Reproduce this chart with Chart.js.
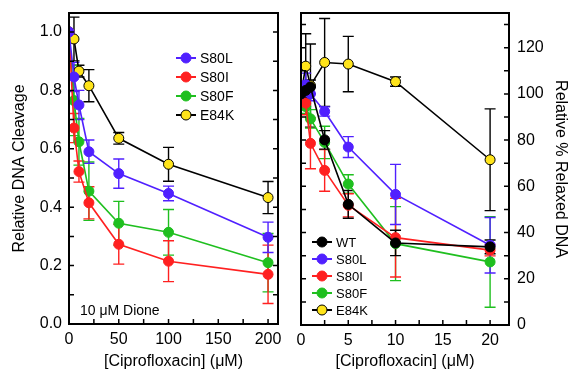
<!DOCTYPE html>
<html>
<head>
<meta charset="utf-8">
<script src="https://cdn.jsdelivr.net/npm/chart.js@4.4.1/dist/chart.umd.min.js"></script>
<style>
  body { margin: 0; background: #fff; }
  .panel { position: absolute; top: 0; height: 373px; width: 285px; }
</style>
</head>
<body>
<div class="panel" style="left:0"><canvas id="cleavage"></canvas></div>
<div class="panel" style="left:285px"><canvas id="relaxed"></canvas></div>
<script>
// left panel: relative DNA cleavage vs ciprofloxacin (10 uM dione)
const cleavageDoses = [0, 5, 10, 20, 50, 100, 200];
const cleavageS80L = [1.0, 0.846, 0.75, 0.59, 0.515, 0.447, 0.297];
const cleavageS80LErr = [0, 0.05, 0.05, 0.04, 0.05, 0.025, 0.052];
const cleavageS80I = [1.0, 0.671, 0.522, 0.415, 0.273, 0.215, 0.17];
const cleavageS80IErr = [0, 0.05, 0.036, 0.055, 0.068, 0.07, 0.1];
const cleavageS80F = [1.0, 0.765, 0.624, 0.455, 0.345, 0.314, 0.21];
const cleavageS80FErr = [0, 0.12, 0.08, 0.1, 0.075, 0.078, 0.1];
const cleavageE84K = [1.0, 0.976, 0.866, 0.816, 0.636, 0.547, 0.433];
const cleavageE84KErr = [0, 0.075, 0.02, 0.055, 0.02, 0.058, 0.055];

// right panel: relative % relaxed DNA vs ciprofloxacin
const relaxDoses = [0, 0.5, 1, 2.5, 5, 10, 20];
const relaxWT = [100, 101.5, 103, 80.1, 52.2, 35.5, 33.8];
const relaxWTErr = [0, 3, 3, 4, 6, 5.5, 3];
const relaxS80L = [100, 104, 100, 92.4, 77, 56.5, 34.5];
const relaxS80LErr = [0, 5, 3, 2, 4.5, 13, 12];
const relaxS80I = [100, 96, 78.6, 66.9, 51.8, 37.8, 32.4];
const relaxS80IErr = [0, 5, 11, 9, 5, 17, 2.5];
const relaxS80F = [100, 94.5, 89.2, 79, 61, 35.2, 27.3];
const relaxS80FErr = [0, 3, 4, 7, 4, 16, 19.6];
const relaxE84K = [100, 112, 103.6, 113.6, 112.9, 105.3, 71.5];
const relaxE84KErr = [0, 14, 18, 19, 12, 2, 22];

const BLUE = '#5020ff', RED = '#ff2020', GREEN = '#1fbf1f', YELLOW = '#ffe41a', BLACK = '#000000';
const FONT = "'Liberation Sans', Arial, Helvetica, sans-serif";

const series = (label, xs, ys, errs, color) => ({
  label,
  data: xs.map((x, i) => ({ x, y: ys[i] })),
  errs,
  borderColor: color === YELLOW ? BLACK : color,
  backgroundColor: color,
  pointBorderColor: color === YELLOW ? BLACK : color,
  pointBorderWidth: 1,
  pointRadius: 5,
  pointHoverRadius: 5,
  borderWidth: 1.6,
  showLine: true
});

// frame, inward ticks, error bars, legend and note
const decor = {
  id: 'decor',
  beforeDatasetsDraw(chart) {
    const ctx = chart.ctx, xs = chart.scales.x, ys = chart.scales.y;
    const dsets = chart.data.datasets;
    for (let i = dsets.length - 1; i >= 0; i--) {
      const ds = dsets[i];
      ctx.save();
      ctx.strokeStyle = ds.borderColor;
      ctx.lineWidth = 1.4;
      ds.data.forEach((p, j) => {
        const e = ds.errs[j];
        if (!e) return;
        const px = xs.getPixelForValue(p.x);
        const top = ys.getPixelForValue(p.y + e), bot = ys.getPixelForValue(p.y - e);
        ctx.beginPath();
        ctx.moveTo(px, top); ctx.lineTo(px, bot);
        ctx.moveTo(px - 5.5, top); ctx.lineTo(px + 5.5, top);
        ctx.moveTo(px - 5.5, bot); ctx.lineTo(px + 5.5, bot);
        ctx.stroke();
      });
      ctx.restore();
    }
  },
  afterDraw(chart, args, o) {
    const ctx = chart.ctx, a = chart.chartArea, xs = chart.scales.x, ys = chart.scales.y;
    ctx.save();
    ctx.strokeStyle = '#000';
    ctx.lineWidth = 2;
    ctx.strokeRect(a.left, a.top, a.right - a.left, a.bottom - a.top);
    ctx.lineWidth = 1.5;
    ctx.beginPath();
    for (let v = o.yMinor; v < ys.max; v += o.yMinor) {
      const py = ys.getPixelForValue(v);
      ctx.moveTo(a.left, py); ctx.lineTo(a.left + 5, py);
      ctx.moveTo(a.right, py); ctx.lineTo(a.right - 5, py);
    }
    for (let v = o.xMinor; v < xs.max; v += o.xMinor) {
      const px = xs.getPixelForValue(v);
      ctx.moveTo(px, a.bottom); ctx.lineTo(px, a.bottom - 5);
    }
    ctx.stroke();

    // legend
    const L = o.legend;
    ctx.font = L.size + 'px ' + FONT;
    ctx.textBaseline = 'middle';
    ctx.textAlign = 'left';
    chart.data.datasets.forEach((ds, i) => {
      const y = L.y + i * L.gap;
      ctx.strokeStyle = ds.borderColor;
      ctx.lineWidth = 2;
      ctx.beginPath();
      ctx.moveTo(L.x - 10, y); ctx.lineTo(L.x + 10, y);
      ctx.stroke();
      ctx.beginPath();
      ctx.arc(L.x, y, 5, 0, Math.PI * 2);
      ctx.fillStyle = ds.backgroundColor;
      ctx.fill();
      ctx.lineWidth = 1;
      ctx.strokeStyle = ds.pointBorderColor;
      ctx.stroke();
      ctx.fillStyle = '#000';
      ctx.fillText(ds.label, L.x + 14, y + 1);
    });
    if (o.note) {
      ctx.textBaseline = 'alphabetic';
      ctx.font = '14px ' + FONT;
      ctx.fillText(o.note.text, o.note.x, o.note.y);
    }
    ctx.restore();
  }
};

const tickFont = { family: FONT, size: 16 };
const noPad = s => { s.paddingTop = 0; s.paddingBottom = 0; s.paddingLeft = 0; s.paddingRight = 0; };

const makeChart = (id, datasets, sc, pluginOpts, layoutPad) => new Chart(document.getElementById(id), {
  type: 'scatter',
  data: { datasets },
  plugins: [decor],
  options: {
    responsive: true,
    maintainAspectRatio: false,
    animation: false,
    layout: { padding: layoutPad },
    plugins: { legend: { display: false }, tooltip: { enabled: false }, decor: pluginOpts },
    scales: sc
  }
});

makeChart('cleavage', [
  series('S80L', cleavageDoses, cleavageS80L, cleavageS80LErr, BLUE),
  series('S80I', cleavageDoses, cleavageS80I, cleavageS80IErr, RED),
  series('S80F', cleavageDoses, cleavageS80F, cleavageS80FErr, GREEN),
  series('E84K', cleavageDoses, cleavageE84K, cleavageE84KErr, YELLOW)
], {
  x: {
    type: 'linear', min: 0, max: 210,
    grid: { display: false, drawTicks: false }, border: { display: false },
    ticks: { stepSize: 50, includeBounds: false, font: tickFont, color: '#000', padding: 6, maxRotation: 0 },
    title: { display: true, text: '[Ciprofloxacin] (μM)', font: tickFont, color: '#000', padding: { bottom: 2 } },
    afterFit: s => { s.height = 49; noPad(s); }
  },
  y: {
    type: 'linear', min: 0, max: 1.065,
    grid: { display: false, drawTicks: false }, border: { display: false },
    ticks: { stepSize: 0.2, includeBounds: false, font: tickFont, color: '#000', padding: 7,
      callback: v => v.toFixed(1) },
    title: { display: true, text: 'Relative DNA Cleavage', font: tickFont, color: '#000', padding: { top: 10 } },
    afterFit: s => { s.width = 69; noPad(s); }
  }
}, {
  yMinor: 0.1, xMinor: 25,
  legend: { x: 186, y: 58, gap: 19, size: 14 },
  note: { text: '10 μM Dione', x: 80, y: 315 }
}, { top: 13, right: 7, left: 0, bottom: 0 });

makeChart('relaxed', [
  series('WT', relaxDoses, relaxWT, relaxWTErr, BLACK),
  series('S80L', relaxDoses, relaxS80L, relaxS80LErr, BLUE),
  series('S80I', relaxDoses, relaxS80I, relaxS80IErr, RED),
  series('S80F', relaxDoses, relaxS80F, relaxS80FErr, GREEN),
  series('E84K', relaxDoses, relaxE84K, relaxE84KErr, YELLOW)
], {
  x: {
    type: 'linear', min: 0, max: 22,
    grid: { display: false, drawTicks: false }, border: { display: false },
    ticks: { stepSize: 5, includeBounds: false, font: tickFont, color: '#000', padding: 6, maxRotation: 0 },
    title: { display: true, text: '[Ciprofloxacin] (μM)', font: tickFont, color: '#000', padding: { bottom: 2 } },
    afterFit: s => { s.height = 48; noPad(s); }
  },
  y: {
    type: 'linear', position: 'right', min: 0, max: 135,
    grid: { display: false, drawTicks: false }, border: { display: false },
    ticks: { stepSize: 20, includeBounds: false, font: tickFont, color: '#000', padding: 8 },
    title: { display: true, text: 'Relative % Relaxed DNA', font: tickFont, color: '#000', padding: { top: 0 } },
    afterFit: s => { s.width = 61; noPad(s); }
  }
}, {
  yMinor: 10, xMinor: 2.5,
  legend: { x: 37, y: 242, gap: 17, size: 13 }
}, { top: 13, right: 0, left: 16, bottom: 0 });
</script>
</body>
</html>
